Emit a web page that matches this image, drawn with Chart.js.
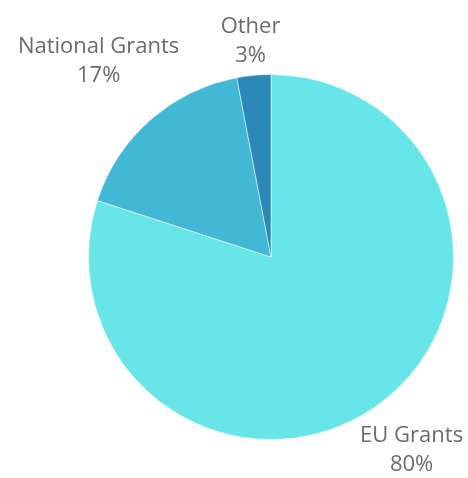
<!DOCTYPE html>
<html>
<head>
<meta charset="utf-8">
<script src="https://cdn.jsdelivr.net/npm/chart.js@4.4.0/dist/chart.umd.min.js"></script>
<style>
  html, body { margin: 0; padding: 0; background: #fff; }
  #wrap { width: 468px; height: 478px; }
</style>
</head>
<body>
<div id="wrap"><canvas id="myChart" width="468" height="478"></canvas></div>
<script>
// Funding sources
const labels = ['EU Grants', 'National Grants', 'Other'];
const values = [80, 17, 3];
const colors = ['#68e5e9', '#42b8d5', '#2b89b8'];

// Plugin for two-line labels outside each slice
const outsideLabels = {
  id: 'outsideLabels',
  afterDatasetsDraw(chart) {
    const { ctx } = chart;
    const meta = chart.getDatasetMeta(0);
    const total = values.reduce((a, b) => a + b, 0);
    ctx.save();
    ctx.font = '22px "Open Sans", sans-serif';
    ctx.fillStyle = '#6b6b6b';
    ctx.textAlign = 'center';
    ctx.textBaseline = 'middle';
    const lineH = 29;
    for (let i = 0; i < meta.data.length; i++) {
      const arc = meta.data[i];
      const mid = (arc.startAngle + arc.endAngle) / 2;
      const dx = Math.cos(mid), dy = Math.sin(mid);
      const lines = [labels[i], Math.round(values[i] / total * 100) + '%'];
      const w = Math.max(...lines.map(t => ctx.measureText(t).width));
      const h = lineH * lines.length;
      const d = arc.outerRadius + 3 + Math.abs(dx) * w / 2 + Math.abs(dy) * h / 2;
      const cx = arc.x + dx * d, cy = arc.y + dy * d;
      lines.forEach((t, k) => {
        ctx.fillText(t, cx, cy - h / 2 + lineH * (k + 0.5));
      });
    }
    ctx.restore();
  }
};

const config = {
  type: 'pie',
  data: {
    labels: labels,
    datasets: [{
      data: values,
      backgroundColor: colors,
      borderColor: 'rgba(255,255,255,0.5)',
      borderWidth: 1
    }]
  },
  options: {
    responsive: false,
    animation: false,
    layout: { padding: { top: 74, bottom: 38, left: 88, right: 14 } },
    plugins: {
      legend: { display: false },
      tooltip: { enabled: false }
    }
  },
  plugins: [outsideLabels]
};

const myChart = new Chart(document.getElementById('myChart'), config);
</script>
</body>
</html>
